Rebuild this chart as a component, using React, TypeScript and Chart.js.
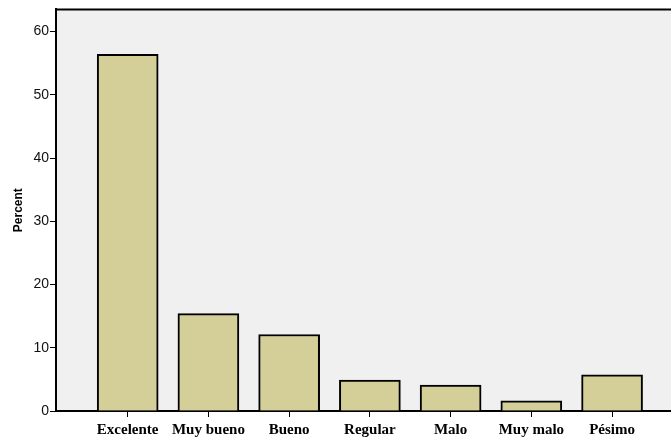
import React, { useEffect, useRef } from "react";
import { Chart, registerables } from "chart.js";

Chart.register(...registerables);

const categories = ["Excelente", "Muy bueno", "Bueno", "Regular", "Malo", "Muy malo", "Pésimo"];
const percents = [56.4, 15.4, 12.1, 4.9, 4.1, 1.6, 5.7];
const yTicks = [0, 10, 20, 30, 40, 50, 60];

const frame = {
  id: "frame",
  beforeDraw(chart: any) {
    const { ctx, chartArea: a } = chart;
    ctx.save();
    ctx.fillStyle = "#f0f0f0";
    ctx.fillRect(a.left, a.top, a.right - a.left, a.bottom - a.top);
    ctx.restore();
  },
  afterDraw(chart: any) {
    const { ctx, chartArea: a } = chart;
    ctx.save();
    ctx.strokeStyle = "#000";
    ctx.lineWidth = 2;
    ctx.beginPath();
    ctx.moveTo(a.left - 1, a.top);
    ctx.lineTo(a.right, a.top);
    ctx.stroke();
    ctx.restore();
  },
};

export default function App() {
  const ref = useRef<HTMLCanvasElement>(null);
  useEffect(() => {
    const chart = new Chart(ref.current!, {
      type: "bar",
      data: {
        datasets: [
          {
            data: percents.map((v, i) => ({ x: i, y: v })),
            backgroundColor: "#d4cf98",
            borderColor: "#000",
            borderWidth: 2,
            barThickness: 61,
          },
        ],
      },
      options: {
        animation: false,
        responsive: false,
        maintainAspectRatio: false,
        layout: { padding: { top: 8, left: 0, right: 0, bottom: 0 } },
        plugins: { legend: { display: false }, tooltip: { enabled: false } },
        scales: {
          x: {
            type: "linear",
            min: -0.888,
            max: 6.73,
            offset: false,
            grid: { offset: false, drawOnChartArea: false, color: "#000", tickLength: 6, lineWidth: 1 },
            border: { color: "#000", width: 2 },
            afterBuildTicks: (s: any) => {
              s.ticks = categories.map((_, i) => ({ value: i }));
            },
            afterFit: (s: any) => {
              s.height = 32;
            },
            ticks: {
              autoSkip: false,
              maxRotation: 0,
              padding: 4,
              color: "#000",
              font: { family: "Liberation Serif", size: 15, weight: "bold" },
              callback: (v: any) => categories[v] ?? "",
            },
          },
          y: {
            min: 0,
            max: 63.5,
            grid: { drawOnChartArea: false, color: "#000", tickLength: 6, lineWidth: 1 },
            border: { color: "#000", width: 2 },
            afterBuildTicks: (s: any) => {
              s.ticks = yTicks.map((v) => ({ value: v }));
            },
            afterFit: (s: any) => {
              s.width = 56;
            },
            title: {
              display: true,
              text: "Percent",
              color: "#000",
              font: { family: "Liberation Sans", size: 12, weight: "bold" },
              padding: { top: 11, bottom: 0 },
            },
            ticks: {
              padding: 1,
              color: "#111",
              font: { family: "Liberation Sans", size: 14 },
            },
          },
        },
      },
      plugins: [frame],
    } as any);
    return () => chart.destroy();
  }, []);
  return (
    <div style={{ position: "fixed", left: 0, top: 0, width: 671, height: 443, background: "#fff" }}>
      <canvas ref={ref} width={671} height={443} style={{ display: "block" }} />
    </div>
  );
}
